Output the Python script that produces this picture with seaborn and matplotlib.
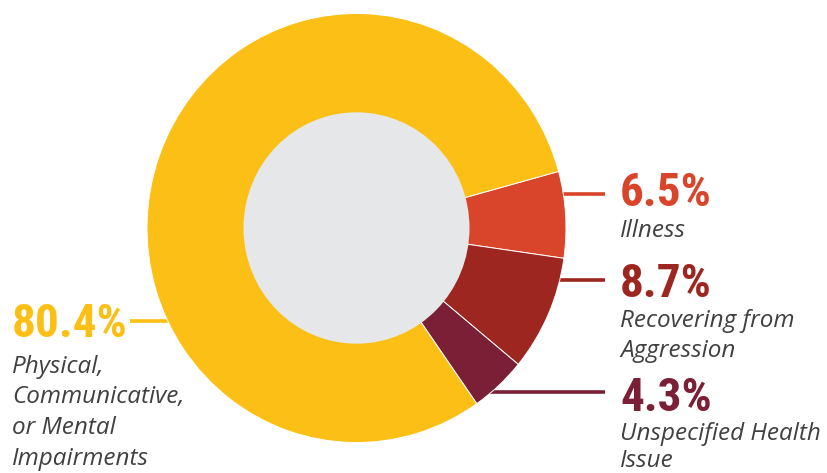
import matplotlib
matplotlib.use("Agg")
import matplotlib.pyplot as plt
import seaborn as sns

# Reasons for the absence, share of all cases (%)
categories = [
    "Illness",
    "Recovering from\nAggression",
    "Unspecified Health\nIssue",
    "Physical,\nCommunicative,\nor Mental\nImpairments",
]
shares = [6.5, 8.7, 4.3, 80.4]
slice_colors = ["#D9452A", "#9E2620", "#7A1F35", "#FBBF15"]

sns.set_theme(style="white")
plt.rcParams["font.family"] = ["DejaVu Sans"]

NUM_FONT = ["Roboto Condensed", "Open Sans Condensed", "Noto Sans Condensed",
            "Liberation Sans Narrow", "DejaVu Sans"]
LABEL_FONT = ["Open Sans", "DejaVu Sans"]
TEXT_GRAY = "#404041"

W, H = 827, 473
fig = plt.figure(figsize=(W / 100, H / 100), dpi=100)
ax = fig.add_axes([0, 0, 1, 1])

K = 1.024  # the ring is drawn slightly taller than wide


def py(y):
    """Pixel row (from the top) to data y."""
    return (H - y) / K


cx, cy = 356.5, py(228)
R_OUT, R_IN = 209.5, 113

ax.pie(
    shares,
    colors=slice_colors,
    startangle=15.3,
    counterclock=False,
    radius=R_OUT,
    center=(cx, cy),
    wedgeprops=dict(edgecolor="white", linewidth=0.7),
)
ax.add_patch(plt.Circle((cx, cy), R_IN, color="#E6E7E8", zorder=5, lw=0))

# label layout: leader line (y, x0, x1), text x, number baseline, label baselines
layout = [
    (194, 550, 605, 620, 206, [237]),
    (280, 545, 605, 620, 297, [327, 357]),
    (392, 480, 605, 620, 411, [440, 467]),
    (321, 130, 180, 12, 337, [373, 403, 434, 465]),
]

for cat, val, col, (ly, lx0, lx1, tx, nb, lbs) in zip(categories, shares, slice_colors, layout):
    ax.plot([lx0, lx1], [py(ly), py(ly)], color=col, lw=2.6,
            solid_capstyle="butt", zorder=0.5)
    ax.text(tx, py(nb), f"{val}%", color=col, fontsize=34, fontweight="bold",
            fontstretch="condensed", family=NUM_FONT, ha="left", va="baseline")
    for line, lb in zip(cat.split("\n"), lbs):
        ax.text(tx, py(lb), line, color=TEXT_GRAY, fontsize=17.5,
                style="italic", family=LABEL_FONT, ha="left", va="baseline")

ax.set_xlim(0, W)
ax.set_ylim(0, H / K)
ax.set_aspect("auto")
ax.axis("off")

fig.savefig("out.png", dpi=100, facecolor="white")
